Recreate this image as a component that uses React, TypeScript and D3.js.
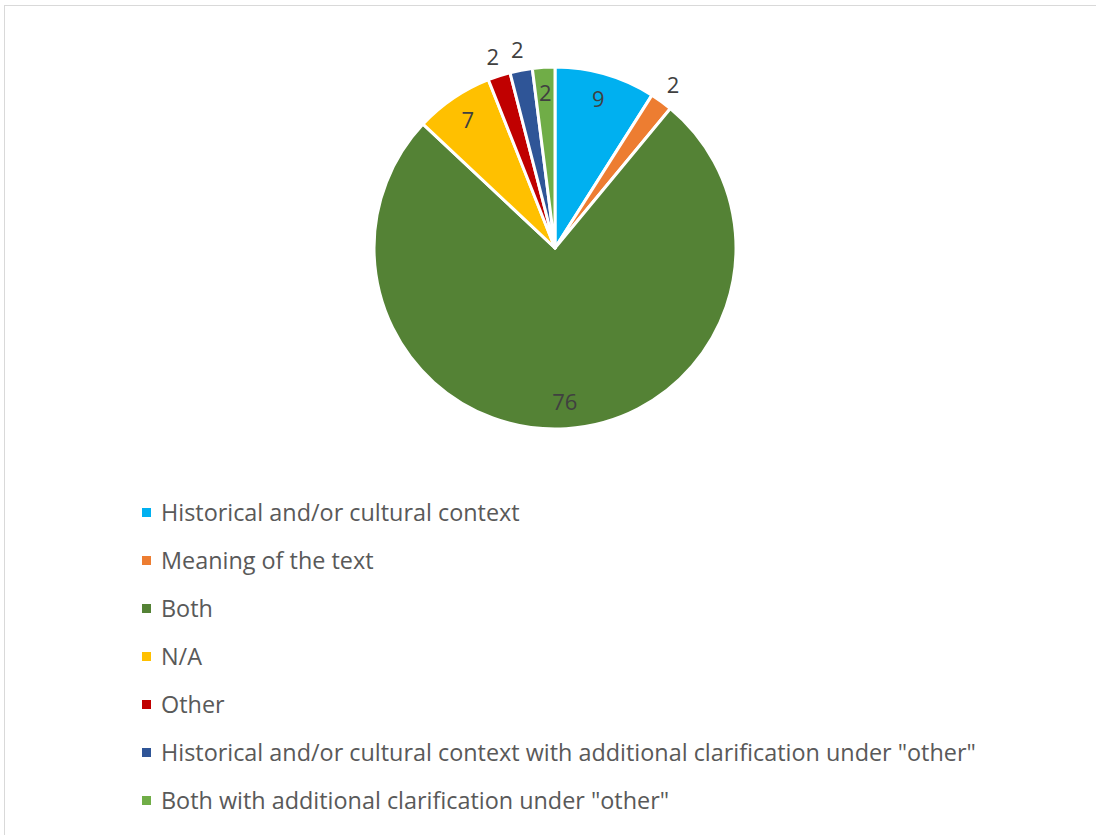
import React from "react";
import * as d3 from "d3";

const categories = [
  "Historical and/or cultural context",
  "Meaning of the text",
  "Both",
  "N/A",
  "Other",
  "Historical and/or cultural context with additional clarification under \"other\"",
  "Both with additional clarification under \"other\"",
];
const values = [9, 2, 76, 7, 2, 2, 2];
const colors = ["#00B0F0", "#ED7D31", "#548235", "#FFC000", "#C00000", "#2F5597", "#70AD47"];
const labelPlacement = ["in", "out", "in", "in", "out", "out", "in"];

export default function App() {
  const W = 1096, H = 835;
  const cx = 555, cy = 248, R = 181;
  const pie = d3.pie<number>().sort(null).value((d) => d);
  const arcs = pie(values);
  const arc = d3.arc<d3.PieArcDatum<number>>().innerRadius(0).outerRadius(R);
  const inArc = d3.arc<d3.PieArcDatum<number>>().innerRadius(155).outerRadius(155);
  const outArc = d3.arc<d3.PieArcDatum<number>>().innerRadius(201).outerRadius(201);
  const legendY = d3.scaleLinear().domain([0, 1]).range([513, 561]);
  const font = "'Open Sans', sans-serif";
  return (
    <svg width={W} height={H} style={{ position: "absolute", left: 0, top: 0 }}>
      <rect x={0} y={0} width={W} height={H} fill="#fff" />
      <rect x={4.5} y={5.5} width={W + 10} height={H + 10} fill="#fff" stroke="#d9d9d9" strokeWidth={1} />
      <g transform={`translate(${cx},${cy})`}>
        {arcs.map((a, i) => (
          <path key={i} d={arc(a) || ""} fill={colors[i]} stroke="#fff" strokeWidth={3} strokeLinejoin="round" />
        ))}
        {arcs.map((a, i) => {
          const [x, y] = (labelPlacement[i] === "in" ? inArc : outArc).centroid(a);
          return (
            <text key={i} x={x} y={y} dy="0.35em" textAnchor="middle" fontFamily={font} fontSize={22} fill="#404040">
              {values[i]}
            </text>
          );
        })}
      </g>
      {categories.map((c, i) => (
        <g key={i} transform={`translate(0,${legendY(i)})`}>
          <rect x={142} y={-5} width={9} height={9} fill={colors[i]} />
          <text x={161} y={0} dy="0.35em" fontFamily={font} fontSize={23.4} fill="#595959">{c}</text>
        </g>
      ))}
    </svg>
  );
}
